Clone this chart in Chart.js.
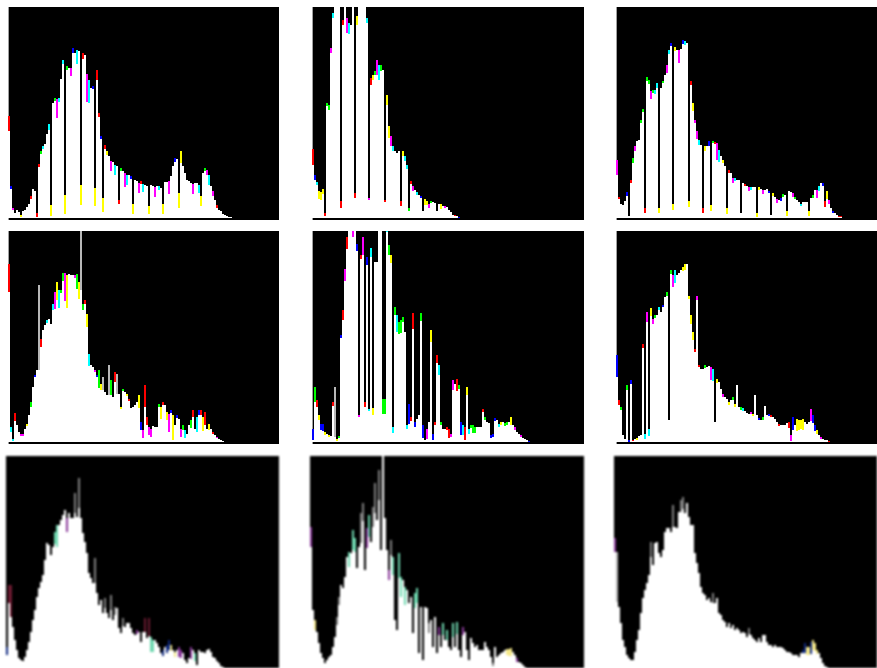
<!DOCTYPE html>
<html>
<head>
<meta charset="utf-8">
<title>Image histograms</title>
<script src="https://cdn.jsdelivr.net/npm/chart.js@4"></script>
<style>
html,body{margin:0;padding:0;background:#fff;overflow:hidden;width:877px;height:668px}
canvas{position:absolute;background:#000}
</style>
</head>
<body>
<script>
const panel1Values=[102,32,10,5,8,6,3,7,8,11,14,22,29,27,5,54,67,72,74,84,94,13,115,120,119,120,139,158,23,152,150,150,170,165,168,167,33,165,163,144,138,130,132,30,148,105,82,20,73,67,62,57,56,53,52,18,50,47,45,43,43,42,14,38,37,35,37,34,33,32,12,33,32,31,32,32,30,14,36,36,37,42,52,60,59,25,67,52,45,38,37,35,34,35,35,33,22,45,50,48,43,32,27,18,13,8,7,4,3,2,1,1];
const panel1Tips=[[0,15,'r'],[1,3,'b'],[2,2,'m'],[6,2,'y'],[11,3,'r'],[14,4,'r'],[15,3,'r'],[16,3,'g'],[17,3,'c'],[20,6,'c'],[21,11,'y'],[23,3,'g'],[24,19,'m'],[25,4,'c'],[27,4,'c'],[28,19,'y'],[29,4,'g'],[32,5,'b'],[31,8,'m'],[34,14,'c'],[36,20,'y'],[37,6,'r'],[39,28,'m'],[40,23,'c'],[42,3,'b'],[43,18,'y'],[44,10,'r'],[45,4,'r'],[46,3,'b'],[47,14,'y'],[48,4,'r'],[49,4,'y'],[51,10,'m'],[53,10,'c'],[55,4,'r'],[56,3,'g'],[58,14,'m'],[59,10,'c'],[61,3,'b'],[62,10,'y'],[65,10,'m'],[66,3,'r'],[67,8,'c'],[70,8,'y'],[73,10,'m'],[75,4,'c'],[77,10,'y'],[80,13,'m'],[83,4,'b'],[85,15,'y'],[86,12,'y'],[92,10,'m'],[95,8,'c'],[96,10,'y'],[98,3,'g'],[99,5,'m'],[100,10,'c'],[102,5,'m'],[104,3,'r']];

const panel2Values=[69,43,36,27,26,29,5,115,113,170,205,225,225,225,17,198,225,200,195,193,225,25,202,225,225,225,225,200,20,140,143,147,158,153,153,148,18,123,92,82,72,67,65,67,17,67,62,53,10,37,32,28,26,23,22,7,19,17,14,17,16,15,7,14,14,12,12,11,8,6,3,3,2,1];
const panel2Tips=[[0,16,'r'],[1,5,'b'],[2,3,'c'],[3,8,'y'],[4,8,'y'],[5,5,'y'],[6,3,'r'],[7,3,'g'],[8,5,'g'],[9,5,'m'],[10,5,'c'],[14,7,'r'],[15,5,'r'],[16,11,'y'],[17,15,'m'],[18,11,'c'],[20,13,'b'],[21,5,'r'],[22,9,'y'],[27,5,'c'],[28,2,'m'],[29,7,'r'],[30,5,'y'],[31,4,'g'],[32,15,'m'],[33,15,'c'],[34,6,'g'],[36,2,'r'],[37,10,'y'],[38,12,'y'],[39,10,'m'],[40,5,'c'],[44,5,'r'],[45,5,'y'],[46,5,'c'],[47,4,'c'],[48,3,'g'],[49,3,'r'],[50,5,'m'],[52,3,'c'],[54,2,'b'],[56,6,'y'],[57,4,'y'],[58,4,'m'],[59,2,'g'],[64,5,'y'],[66,2,'m'],[71,1,'r'],[73,1,'b']];

const panel3Values=[58,21,14,13,17,26,2,38,60,72,77,78,98,109,10,141,138,127,128,128,135,10,130,137,143,153,168,175,14,171,168,168,169,178,177,175,17,137,115,98,87,78,73,10,72,72,77,13,77,76,75,68,62,58,52,10,48,45,40,40,38,38,5,35,34,32,31,31,31,31,5,31,29,28,28,29,27,3,25,21,19,18,20,24,23,7,27,26,25,21,18,16,14,16,16,16,7,20,23,28,28,32,35,35,17,27,18,10,7,5,3,2,2];
const panel3Tips=[[0,15,'m'],[1,2,'r'],[5,4,'b'],[7,3,'r'],[8,5,'g'],[9,5,'m'],[12,3,'g'],[13,3,'g'],[14,5,'r'],[15,4,'g'],[16,4,'g'],[17,8,'m'],[18,3,'g'],[19,4,'c'],[20,5,'c'],[21,5,'y'],[23,2,'g'],[25,8,'m'],[26,4,'c'],[27,3,'b'],[28,6,'y'],[29,4,'y'],[31,13,'m'],[33,4,'b'],[34,4,'c'],[36,6,'y'],[37,4,'r'],[38,8,'y'],[39,3,'m'],[40,8,'m'],[41,5,'c'],[43,5,'r'],[44,5,'y'],[46,5,'b'],[47,6,'y'],[48,2,'g'],[49,2,'r'],[50,17,'m'],[51,12,'c'],[53,3,'y'],[55,6,'y'],[56,3,'r'],[58,5,'m'],[59,3,'c'],[64,2,'r'],[66,4,'m'],[67,3,'c'],[70,4,'y'],[71,3,'y'],[73,4,'m'],[76,2,'b'],[78,3,'y'],[80,4,'m'],[82,3,'b'],[83,3,'g'],[85,5,'y'],[88,4,'m'],[89,2,'g'],[92,2,'c'],[96,5,'y'],[98,3,'g'],[100,8,'m'],[101,5,'c'],[103,3,'b'],[104,6,'r'],[105,8,'y'],[106,4,'m'],[108,2,'b'],[111,1,'r'],[112,1,'r']];

const panel4Values=[178,15,3,29,17,10,8,8,13,18,27,40,55,67,72,157,103,112,117,122,123,118,138,150,160,152,152,169,169,167,168,167,167,167,168,160,222,138,142,128,88,77,75,72,67,72,58,65,50,47,77,62,45,70,68,48,35,53,50,48,43,34,35,37,40,47,20,12,57,25,15,13,16,15,15,38,35,40,37,30,28,32,27,17,27,23,13,17,12,8,17,22,32,13,25,32,32,25,30,13,18,13,10,7,5,3,2,1];
const panel4Tips=[[0,28,'r'],[1,5,'c'],[2,2,'c'],[3,8,'r'],[6,2,'m'],[7,2,'m'],[9,2,'y'],[11,5,'g'],[13,2,'b'],[15,85,'a'],[16,8,'r'],[19,3,'c'],[22,6,'c'],[23,17,'m'],[24,18,'y'],[25,18,'c'],[26,3,'g'],[27,8,'g'],[28,28,'m'],[29,33,'y'],[33,3,'m'],[34,15,'g'],[35,17,'y'],[36,70,'a'],[37,6,'g'],[38,4,'r'],[39,13,'y'],[40,12,'c'],[43,2,'m'],[44,2,'b'],[45,18,'g'],[46,6,'y'],[47,13,'a'],[50,30,'a'],[51,15,'g'],[53,10,'r'],[54,20,'a'],[56,2,'y'],[57,2,'g'],[59,2,'y'],[60,2,'r'],[65,13,'y'],[66,8,'b'],[67,8,'m'],[68,22,'r'],[69,8,'r'],[70,8,'m'],[71,8,'m'],[75,3,'g'],[76,12,'y'],[77,3,'r'],[79,8,'y'],[80,18,'m'],[81,3,'b'],[82,25,'y'],[84,3,'b'],[86,8,'m'],[87,5,'g'],[88,8,'c'],[91,8,'g'],[92,7,'r'],[94,15,'c'],[95,5,'b'],[96,5,'r'],[97,14,'y'],[98,13,'r'],[100,6,'y'],[102,2,'r'],[104,1,'m']];

const panel5Values=[13,55,42,27,18,18,10,8,7,6,40,55,3,6,107,132,173,205,222,222,222,222,198,27,187,205,40,185,33,194,34,180,180,222,222,43,43,222,197,187,15,135,127,120,122,125,110,17,38,25,129,20,23,27,129,17,2,13,20,112,8,20,87,77,20,13,13,15,13,8,62,58,63,57,20,17,15,55,13,17,17,15,15,15,15,33,25,20,19,7,8,24,22,18,20,20,19,20,20,25,17,15,10,8,7,4,3,2,1];
const panel5Tips=[[0,11,'b'],[1,15,'g'],[2,7,'r'],[3,5,'y'],[4,6,'b'],[5,7,'b'],[6,3,'y'],[8,2,'y'],[10,4,'r'],[11,50,'a'],[12,2,'y'],[13,2,'g'],[14,3,'b'],[15,10,'r'],[16,12,'m'],[17,12,'r'],[19,8,'r'],[20,17,'m'],[22,7,'b'],[23,2,'m'],[24,4,'r'],[25,18,'m'],[26,5,'r'],[27,8,'b'],[28,2,'c'],[29,9,'c'],[30,7,'y'],[33,5,'y'],[34,10,'m'],[35,15,'g'],[36,15,'g'],[37,12,'c'],[38,10,'g'],[39,8,'y'],[40,6,'c'],[41,8,'g'],[42,17,'c'],[43,12,'g'],[44,13,'g'],[45,5,'g'],[47,4,'c'],[48,20,'b'],[49,4,'r'],[50,16,'r'],[51,5,'b'],[54,8,'g'],[55,13,'b'],[57,10,'m'],[59,12,'y'],[60,6,'b'],[61,3,'r'],[62,8,'r'],[63,10,'c'],[64,3,'g'],[67,3,'r'],[68,9,'r'],[69,3,'m'],[70,10,'m'],[72,12,'r'],[73,4,'g'],[74,13,'b'],[75,10,'c'],[76,13,'r'],[77,8,'y'],[78,5,'c'],[79,3,'g'],[80,8,'g'],[81,6,'g'],[85,3,'r'],[86,3,'g'],[89,3,'b'],[90,3,'b'],[91,3,'b'],[93,3,'c'],[94,3,'y'],[96,3,'g'],[97,3,'g'],[99,8,'y'],[101,3,'m'],[104,2,'m'],[108,1,'b']];

const panel6Values=[87,42,35,7,3,57,2,62,2,3,4,6,7,98,8,130,13,134,123,127,127,135,130,137,145,150,22,172,167,172,167,169,172,175,178,178,146,127,110,93,146,77,73,73,77,75,76,75,73,20,63,60,53,48,45,43,40,42,45,38,57,35,35,34,31,29,28,30,28,47,27,24,22,25,36,27,28,27,25,23,20,18,17,17,17,19,20,7,25,17,23,22,22,23,20,18,20,33,27,17,12,7,5,3,2,2,1];
const panel6Tips=[[0,22,'b'],[1,5,'r'],[2,3,'g'],[5,5,'g'],[6,2,'b'],[7,4,'b'],[8,1,'r'],[10,2,'y'],[13,4,'r'],[14,5,'c'],[15,10,'m'],[16,7,'c'],[17,8,'y'],[18,5,'m'],[19,3,'g'],[21,3,'c'],[23,2,'b'],[25,4,'g'],[27,4,'g'],[28,12,'m'],[29,13,'c'],[33,4,'y'],[34,6,'y'],[36,3,'y'],[37,9,'y'],[38,8,'y'],[39,3,'r'],[40,4,'m'],[41,2,'r'],[44,3,'g'],[47,13,'m'],[48,12,'c'],[50,4,'y'],[53,3,'m'],[56,3,'y'],[58,3,'g'],[59,3,'y'],[62,3,'g'],[63,3,'c'],[67,2,'m'],[68,2,'y'],[71,2,'b'],[73,3,'g'],[76,2,'b'],[77,2,'r'],[81,2,'r'],[86,6,'r'],[87,6,'m'],[88,13,'b'],[90,12,'y'],[91,10,'y'],[92,9,'y'],[93,11,'y'],[97,12,'m'],[98,8,'b'],[99,6,'b'],[100,4,'y'],[102,2,'m'],[106,1,'r']];

const panel7Values=[21,83,83,41,28,18,10,8,7,11,18,26,36,48,58,71,80,86,93,108,125,123,113,121,136,143,143,148,153,158,150,155,150,150,175,151,190,150,135,126,115,95,90,85,110,75,63,68,55,70,55,50,73,48,61,60,40,35,50,41,45,45,40,35,33,38,36,26,36,50,30,50,31,28,28,25,21,15,18,21,23,28,23,18,16,18,21,18,15,8,5,10,21,18,15,3,18,16,16,15,18,19,16,11,10,7,5,2,1];
const panel7Tips=[[0,8,'n'],[1,18,'d'],[2,32,'d'],[24,12,'t'],[25,22,'t'],[30,14,'p'],[34,20,'s'],[36,30,'s'],[44,25,'s'],[49,10,'s'],[52,15,'s'],[54,8,'s'],[58,8,'s'],[65,4,'p'],[69,14,'d'],[71,18,'d'],[72,15,'t'],[73,12,'t'],[78,6,'n'],[80,8,'n'],[81,10,'n'],[82,6,'l'],[84,5,'l'],[86,10,'p'],[87,8,'p'],[92,12,'p'],[94,8,'t']];

const panel8Values=[141,58,48,36,25,15,10,5,8,11,13,21,31,51,71,83,80,91,111,116,115,138,130,100,121,155,165,98,140,153,126,161,185,148,198,118,212,150,118,98,128,111,48,38,115,91,88,81,78,65,71,35,75,80,15,61,8,61,60,45,48,21,51,15,41,21,45,28,38,21,18,45,21,46,18,11,41,36,18,8,30,25,21,23,18,18,18,26,21,18,11,5,21,11,13,15,16,18,19,19,20,16,13,10,6,5,3,1];
const panel8Tips=[[0,20,'p'],[2,10,'l'],[13,8,'s'],[14,8,'s'],[19,15,'t'],[21,20,'t'],[22,14,'t'],[25,30,'s'],[26,18,'s'],[28,20,'p'],[29,22,'t'],[31,20,'s'],[32,30,'s'],[34,30,'s'],[39,10,'p'],[40,15,'s'],[41,18,'t'],[44,25,'t'],[45,20,'t'],[47,18,'t'],[52,15,'t'],[53,15,'t'],[59,10,'s'],[64,8,'p'],[66,12,'t'],[68,10,'t'],[71,14,'t'],[73,12,'t'],[76,8,'p'],[91,3,'s'],[98,6,'l'],[99,7,'l'],[100,8,'l'],[103,4,'p']];

const panel9Values=[130,116,61,45,28,21,13,10,8,8,16,28,38,55,70,78,85,93,126,103,125,126,115,111,118,136,140,140,136,163,141,140,156,168,171,155,165,151,143,143,115,105,95,81,75,73,68,70,66,75,65,70,55,53,48,46,41,45,40,43,38,40,38,35,36,35,31,40,33,30,28,26,30,26,33,33,26,23,23,21,23,21,21,21,20,18,16,16,15,13,13,13,11,15,18,25,21,21,26,28,25,18,15,10,5,2,1];
const panel9Tips=[[0,14,'p'],[1,50,'a'],[18,15,'s'],[29,22,'s'],[33,12,'s'],[34,12,'s'],[49,10,'s'],[67,6,'s'],[94,3,'n'],[95,10,'n'],[96,8,'l'],[97,8,'l'],[98,12,'n'],[99,10,'l'],[100,8,'l'],[101,4,'l']];

const tints={r:'#ff0000',y:'#ffff00',g:'#00ff00',b:'#0000ff',c:'#00ffff',m:'#ff00ff',a:'#b8b8b8',d:'#6a1a30',t:'#6fd8b0',p:'#8a3a9a',n:'#102a80',l:'#f5e88a',s:'#808080'};

const layout=[
 {x:8,y:7,w:271,h:213,min:-2,axis:true,blur:.6,v:panel1Values,t:panel1Tips},
 {x:312,y:7,w:272,h:213,min:-2,axis:true,blur:.6,v:panel2Values,t:panel2Tips},
 {x:616,y:7,w:261,h:213,min:-2,axis:true,blur:.6,v:panel3Values,t:panel3Tips},
 {x:8,y:231,w:271,h:213,min:-2,axis:true,blur:.6,v:panel4Values,t:panel4Tips},
 {x:312,y:231,w:272,h:213,min:-2,axis:true,blur:.6,v:panel5Values,t:panel5Tips},
 {x:616,y:231,w:261,h:213,min:-2,axis:true,blur:.6,v:panel6Values,t:panel6Tips},
 {x:6,y:456,w:273,h:212,min:0,axis:false,blur:.9,v:panel7Values,t:panel7Tips},
 {x:310,y:456,w:274,h:212,min:0,axis:false,blur:.9,v:panel8Values,t:panel8Tips},
 {x:614,y:456,w:263,h:212,min:0,axis:false,blur:.9,v:panel9Values,t:panel9Tips}
];

layout.forEach(function(p){
  const c=document.createElement('canvas');
  c.width=p.w;c.height=p.h;
  c.style.cssText='left:'+p.x+'px;top:'+p.y+'px;width:'+p.w+'px;height:'+p.h+'px;filter:blur('+p.blur+'px)';
  document.body.appendChild(c);
  const rightPad=p.w%2;
  const n=(p.w-rightPad)/2;
  const labels=Array.from({length:n},(_,i)=>String(i));
  const tip=new Array(n).fill(0),col=new Array(n).fill('#fff');
  p.t.forEach(function(e){tip[e[0]]=e[1];col[e[0]]=tints[e[2]];});
  const white=labels.map((_,i)=>i<p.v.length?Math.max(p.v[i]-tip[i],0):null);
  const accent=labels.map((_,i)=>i<p.v.length&&tip[i]>0?Math.min(tip[i],p.v[i]):null);
  new Chart(c,{
    type:'bar',
    data:{labels:labels,datasets:[
      {label:'count',data:white,backgroundColor:'#ffffff',borderWidth:0,inflateAmount:0,barPercentage:1,categoryPercentage:1,stack:'h'},
      {label:'channel',data:accent,backgroundColor:col,borderWidth:0,inflateAmount:0,barPercentage:1,categoryPercentage:1,stack:'h'}
    ]},
    options:{
      responsive:false,animation:false,devicePixelRatio:1,
      layout:{padding:{left:0,top:0,bottom:0,right:rightPad}},
      plugins:{legend:{display:false},tooltip:{enabled:false},title:{display:false}},
      scales:{
        x:{display:false,stacked:true},
        y:{display:p.axis,stacked:true,min:p.min,max:p.h+p.min,
           afterFit:function(s){s.width=0;},
           ticks:{display:false},grid:{display:false,drawTicks:false},
           border:{display:true,color:'#a0a0a0',width:1}}
      }
    }
  });
});
</script>
</body>
</html>
